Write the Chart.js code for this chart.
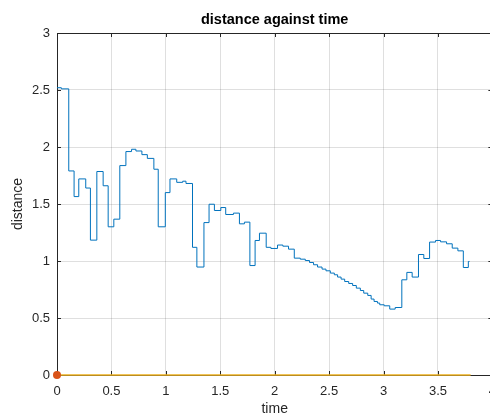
<!DOCTYPE html>
<html>
<head>
<meta charset="utf-8">
<title>distance against time</title>
<script src="https://cdn.jsdelivr.net/npm/chart.js@4.4.1/dist/chart.umd.min.js"></script>
<style>
  html, body { margin: 0; padding: 0; background: #fff; overflow: hidden; }
  #wrap { width: 505px; height: 417px; }
</style>
</head>
<body>
<div id="wrap"><canvas id="myChart" width="505" height="417"></canvas></div>
<script>
// sampled distance, held between samples
const time = [0, 0.04, 0.108, 0.157, 0.20, 0.264, 0.307, 0.366, 0.424, 0.47, 0.522, 0.577, 0.633, 0.685, 0.725,
    0.78, 0.83, 0.89, 0.93, 0.995, 1.038, 1.10, 1.155, 1.185, 1.245, 1.285, 1.35, 1.397, 1.446, 1.505, 1.55,
    1.621, 1.676, 1.722, 1.772, 1.82, 1.86, 1.922, 1.965, 2.026, 2.075, 2.127, 2.18, 2.235, 2.281, 2.320, 2.357,
    2.394, 2.435, 2.471, 2.511, 2.548, 2.578, 2.610, 2.643, 2.680, 2.716, 2.750, 2.787, 2.818, 2.855, 2.886,
    2.913, 2.944, 2.965, 3.006, 3.057, 3.107, 3.168, 3.214, 3.263, 3.321, 3.37, 3.423, 3.478, 3.524, 3.579,
    3.631, 3.683, 3.733, 3.779, 3.79];
const distance = [2.52, 2.51, 1.79, 1.565, 1.72, 1.64, 1.183, 1.785, 1.66, 1.30, 1.367, 1.837, 1.96, 1.98, 1.965,
    1.933, 1.90, 1.805, 1.30, 1.60, 1.72, 1.69, 1.70, 1.68, 1.12, 0.947, 1.337, 1.498, 1.443, 1.469, 1.408,
    1.42, 1.326, 1.341, 0.96, 1.18, 1.244, 1.12, 1.11, 1.14, 1.13, 1.104, 1.025, 1.016, 1.004, 0.987, 0.967,
    0.947, 0.929, 0.914, 0.894, 0.879, 0.859, 0.841, 0.820, 0.803, 0.785, 0.762, 0.741, 0.718, 0.698, 0.666,
    0.645, 0.631, 0.616, 0.607, 0.578, 0.592, 0.835, 0.90, 0.859, 1.057, 1.022, 1.166, 1.18, 1.168, 1.151,
    1.113, 1.089, 0.943, 0.996, 0.996];

// flat reference line and start marker
const baseTime = [0, 3.80];
const baseDistance = [0, 0];
const startTime = [0];
const startDistance = [0];

const xTicks = [0, 0.5, 1, 1.5, 2, 2.5, 3, 3.5, 4];
const yTicks = [0, 0.5, 1, 1.5, 2, 2.5, 3];

const axisColor = '#262626';
const gridColor = 'rgba(38, 38, 38, 0.15)';
const fontFamily = '"Liberation Sans", Arial, Helvetica, sans-serif';

function toPoints(xs, ys) {
    return xs.map((x, i) => ({ x: x, y: ys[i] }));
}

// box outline and inward tick marks
const boxTicks = {
    id: 'boxTicks',
    beforeDatasetsDraw(chart) {
        const { ctx, chartArea: a, scales: { x, y } } = chart;
        const len = 4;
        ctx.save();
        ctx.strokeStyle = axisColor;
        ctx.lineWidth = 1;
        ctx.beginPath();
        ctx.moveTo(a.left, a.top + 0.5);
        ctx.lineTo(a.right, a.top + 0.5);
        ctx.moveTo(a.right - 0.5, a.top);
        ctx.lineTo(a.right - 0.5, a.bottom);
        xTicks.forEach(v => {
            const px = Math.round(x.getPixelForValue(v)) + 0.5;
            ctx.moveTo(px, a.bottom);
            ctx.lineTo(px, a.bottom - len);
            ctx.moveTo(px, a.top);
            ctx.lineTo(px, a.top + len);
        });
        yTicks.forEach(v => {
            const py = Math.round(y.getPixelForValue(v)) + 0.5;
            ctx.moveTo(a.left, py);
            ctx.lineTo(a.left + len, py);
            ctx.moveTo(a.right, py);
            ctx.lineTo(a.right - len, py);
        });
        ctx.stroke();
        ctx.restore();
    }
};

const ctx = document.getElementById('myChart').getContext('2d');

new Chart(ctx, {
    type: 'line',
    data: {
        datasets: [
            {
                data: toPoints(time, distance),
                borderColor: '#0072BD',
                borderWidth: 1,
                stepped: true,
                pointRadius: 0,
                fill: false,
                order: 3
            },
            {
                data: toPoints(baseTime, baseDistance),
                borderColor: '#EDB120',
                borderWidth: 1.5,
                pointRadius: 0,
                fill: false,
                clip: false,
                order: 2
            },
            {
                data: toPoints(startTime, startDistance),
                showLine: false,
                pointRadius: 4,
                pointBackgroundColor: '#D95319',
                pointBorderColor: '#D95319',
                pointBorderWidth: 0,
                clip: false,
                order: 1
            }
        ]
    },
    options: {
        responsive: false,
        animation: false,
        devicePixelRatio: 1,
        layout: { padding: { left: 0, right: 8, top: 0, bottom: 0 } },
        plugins: {
            legend: { display: false },
            tooltip: { enabled: false },
            title: {
                display: true,
                text: 'distance against time',
                fullSize: false,
                color: '#000',
                font: { family: fontFamily, size: 14.5, weight: 'bold' },
                padding: { top: 11, bottom: 4.6 }
            }
        },
        scales: {
            x: {
                type: 'linear',
                min: 0,
                max: 4,
                afterFit: s => { s.height = 42; },
                afterBuildTicks: s => { s.ticks = xTicks.map(v => ({ value: v })); },
                ticks: {
                    color: axisColor,
                    padding: 9,
                    maxRotation: 0,
                    font: { family: fontFamily, size: 13 },
                    callback: v => String(v)
                },
                grid: { color: gridColor, drawTicks: false },
                border: { color: axisColor, width: 1 },
                title: {
                    display: true,
                    text: 'time',
                    color: axisColor,
                    font: { family: fontFamily, size: 14 },
                    padding: { top: 0, bottom: -1 }
                }
            },
            y: {
                type: 'linear',
                min: 0,
                max: 3,
                afterFit: s => { s.width = 57; },
                afterBuildTicks: s => { s.ticks = yTicks.map(v => ({ value: v })); },
                ticks: {
                    color: axisColor,
                    padding: 7,
                    font: { family: fontFamily, size: 13 },
                    callback: v => String(v)
                },
                grid: { color: gridColor, drawTicks: false },
                border: { color: axisColor, width: 1 },
                title: {
                    display: true,
                    text: 'distance',
                    color: axisColor,
                    font: { family: fontFamily, size: 14 },
                    padding: { top: 10, bottom: 0 }
                }
            }
        }
    },
    plugins: [boxTicks]
});
</script>
</body>
</html>
